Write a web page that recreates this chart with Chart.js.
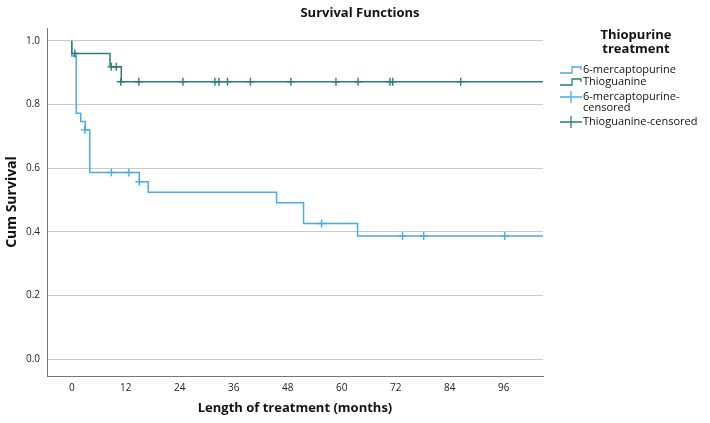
<!DOCTYPE html>
<html>
<head>
<meta charset="utf-8">
<script src="https://cdn.jsdelivr.net/npm/chart.js@4.4.1/dist/chart.umd.min.js"></script>
<style>
  html, body { margin: 0; padding: 0; background: #fff; }
  #wrap { width: 710px; height: 423px; position: relative; }
</style>
</head>
<body>
<div id="wrap"><canvas id="kmChart" width="710" height="423"></canvas></div>
<script>
// axis ticks
const monthTicks = [0, 12, 24, 36, 48, 60, 72, 84, 96];
const survTicks = [0, 0.2, 0.4, 0.6, 0.8, 1.0];

// 6-mercaptopurine step curve (time in months, cum survival)
const mpTimes = [0, 0, 1, 2, 3, 4, 15, 17, 45.5, 51.5, 63.5, 106];
const mpSurv = [1, 0.952, 0.772, 0.746, 0.72, 0.586, 0.557, 0.524, 0.491, 0.426, 0.387, 0.387];

// Thioguanine step curve
const tgTimes = [0, 0, 8.5, 11, 106];
const tgSurv = [1, 0.96, 0.918, 0.871, 0.871];

// censored cases
const mpCensTimes = [2.9, 8.8, 12.7, 15, 55.5, 73.5, 78.2, 96.2];
const mpCensSurv = [0.72, 0.586, 0.586, 0.557, 0.426, 0.387, 0.387, 0.387];
const tgCensTimes = [0.7, 8.8, 9.9, 10.9, 14.9, 24.7, 31.8, 32.7, 34.6, 39.7, 48.7, 58.7, 63.6, 70.7, 71.3, 86.4];
const tgCensSurv = [0.96, 0.918, 0.918, 0.871, 0.871, 0.871, 0.871, 0.871, 0.871, 0.871, 0.871, 0.871, 0.871, 0.871, 0.871, 0.871];

const seriesNames = ['6-mercaptopurine', 'Thioguanine', '6-mercaptopurine-\ncensored', 'Thioguanine-censored'];

const BLUE = '#4aabe6';
const TEAL = '#2f7c78';
const FONT = '"Open Sans", "DejaVu Sans", sans-serif';

function pts(xs, ys) {
    return xs.map((x, i) => ({ x: x, y: ys[i] }));
}

// title + legend drawn by hand (SPSS style icons)
const spssDecor = {
    id: 'spssDecor',
    afterDraw(chart) {
        const c = chart.ctx;
        c.save();
        c.fillStyle = '#111';
        c.textAlign = 'center';
        c.textBaseline = 'middle';
        c.font = 'bold 13px ' + FONT;
        c.fillText('Survival Functions', 360, 13);

        c.font = 'bold 13px ' + FONT;
        c.fillText('Thiopurine', 636, 35);
        c.fillText('treatment', 636, 49);

        c.textAlign = 'left';
        c.font = '11px ' + FONT;
        const colors = [BLUE, TEAL, BLUE, TEAL];
        const rows = [70, 82, 97, 122];
        const x0 = 560, tx = 583;
        for (let i = 0; i < 4; i++) {
            const y = rows[i];
            c.strokeStyle = colors[i];
            c.lineWidth = 1.3;
            c.beginPath();
            if (i < 2) {
                c.moveTo(x0, y + 3);
                c.lineTo(x0 + 12, y + 3);
                c.lineTo(x0 + 12, y - 3);
                c.lineTo(x0 + 21, y - 3);
                c.lineTo(x0 + 21, y);
            } else {
                c.moveTo(x0, y);
                c.lineTo(x0 + 22, y);
                c.moveTo(x0 + 11, y - 6);
                c.lineTo(x0 + 11, y + 6);
            }
            c.stroke();
            c.fillStyle = '#111';
            const lines = seriesNames[i].split('\n');
            lines.forEach((t, k) => c.fillText(t, tx, y + k * 11));
        }
        c.restore();
    }
};

new Chart('kmChart', {
    type: 'line',
    data: {
        datasets: [
            {
                label: seriesNames[1],
                data: pts(tgTimes, tgSurv),
                stepped: 'before',
                borderColor: TEAL,
                borderWidth: 1.5,
                pointRadius: 0,
                fill: false,
                order: 1
            },
            {
                label: seriesNames[0],
                data: pts(mpTimes, mpSurv),
                stepped: 'before',
                borderColor: BLUE,
                borderWidth: 1.5,
                pointRadius: 0,
                fill: false,
                order: 2
            },
            {
                label: seriesNames[3],
                data: pts(tgCensTimes, tgCensSurv),
                showLine: false,
                pointStyle: 'cross',
                pointRadius: 4,
                pointBorderWidth: 1.4,
                borderColor: TEAL,
                order: 0
            },
            {
                label: seriesNames[2],
                data: pts(mpCensTimes, mpCensSurv),
                showLine: false,
                pointStyle: 'cross',
                pointRadius: 4,
                pointBorderWidth: 1.4,
                borderColor: BLUE,
                order: 0
            }
        ]
    },
    options: {
        responsive: false,
        animation: false,
        layout: { padding: { left: 0, right: 167, top: 28, bottom: 5 } },
        plugins: {
            legend: { display: false },
            tooltip: { enabled: false }
        },
        scales: {
            x: {
                type: 'linear',
                min: -5.5,
                max: 104.7,
                afterBuildTicks: (s) => { s.ticks = monthTicks.map(v => ({ value: v })); },
                afterFit: (s) => { s.height = 42; },
                grid: { display: false, drawTicks: false },
                border: { display: true, color: '#777', width: 1 },
                ticks: { color: '#222', font: { family: FONT, size: 10 }, padding: 6, maxRotation: 0 },
                title: {
                    display: true,
                    text: 'Length of treatment (months)',
                    color: '#111',
                    font: { family: FONT, size: 13, weight: 'bold' },
                    padding: { top: 0, bottom: 2 }
                }
            },
            y: {
                type: 'linear',
                min: -0.053,
                max: 1.04,
                afterBuildTicks: (s) => { s.ticks = survTicks.map(v => ({ value: v })); },
                afterFit: (s) => { s.width = 47; },
                grid: { color: '#c9c9c9', lineWidth: 1, drawTicks: false },
                border: { display: true, color: '#777', width: 1 },
                ticks: {
                    color: '#222',
                    font: { family: FONT, size: 10 },
                    padding: 7,
                    callback: (v) => v.toFixed(1)
                },
                title: {
                    display: true,
                    text: 'Cum Survival',
                    color: '#111',
                    font: { family: FONT, size: 14, weight: 'bold' },
                    padding: { top: 4, bottom: 0 }
                }
            }
        }
    },
    plugins: [spssDecor]
});
</script>
</body>
</html>
